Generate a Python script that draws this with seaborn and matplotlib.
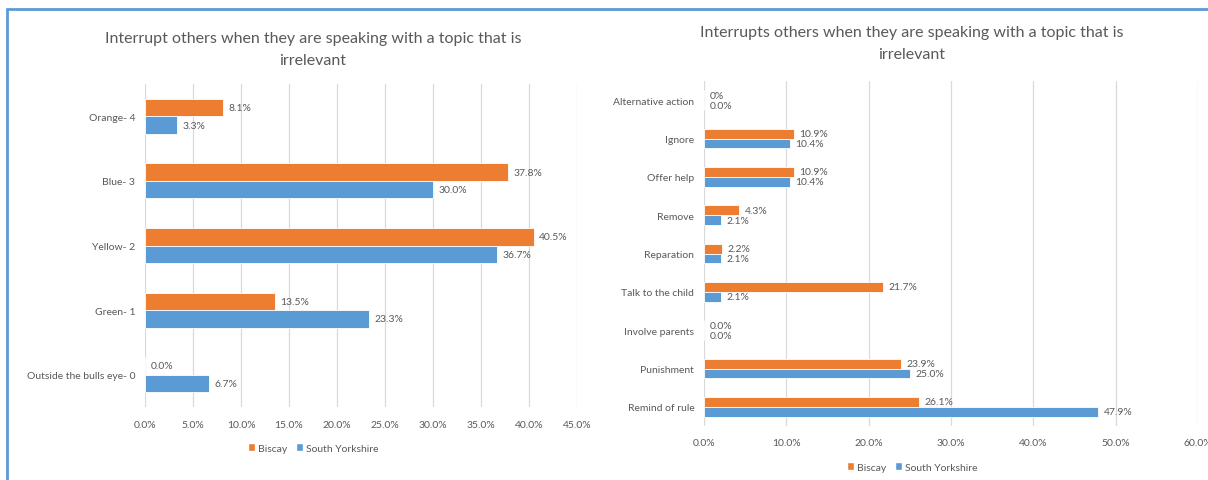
import matplotlib
matplotlib.use("Agg")
import matplotlib.pyplot as plt
from matplotlib.lines import Line2D
from matplotlib.patches import Patch
import seaborn as sns
import pandas as pd

# left chart: bulls eye score
left_cats = ["Orange- 4", "Blue- 3", "Yellow- 2", "Green- 1", "Outside the bulls eye- 0"]
left_biscay = [8.1, 37.8, 40.5, 13.5, 0.0]
left_sy = [3.3, 30.0, 36.7, 23.3, 6.7]
left_ticks = [0, 5, 10, 15, 20, 25, 30, 35, 40, 45]

# right chart: teacher response
right_cats = ["Alternative action", "Ignore", "Offer help", "Remove", "Reparation",
              "Talk to the child", "Involve parents", "Punishment", "Remind of rule"]
right_biscay = [0.0, 10.9, 10.9, 4.3, 2.2, 21.7, 0.0, 23.9, 26.1]
right_sy = [0.0, 10.4, 10.4, 2.1, 2.1, 2.1, 0.0, 25.0, 47.9]
right_biscay_labels = ["0%", "10.9%", "10.9%", "4.3%", "2.2%", "21.7%", "0.0%", "23.9%", "26.1%"]
right_ticks = [0, 10, 20, 30, 40, 50, 60]

series = ["Biscay", "South Yorkshire"]
title = "Interrupt others when they are speaking with a topic that is\nirrelevant"
title_r = "Interrupts others when they are speaking with a topic that is\nirrelevant"

ORANGE = "#ED7D31"
BLUE = "#5B9BD5"
GREY = "#595959"

sns.set_style("white")
plt.rcParams["font.family"] = ["Lato", "DejaVu Sans"]

W, H = 1208, 481
fig = plt.figure(figsize=(W / 100, H / 100), dpi=100)


def px_axes(x0, x1, y0, y1):
    return fig.add_axes([x0 / W, 1 - y1 / H, (x1 - x0) / W, (y1 - y0) / H])


def draw(ax, cats, biscay, sy, ticks, width, fs, blabels=None):
    df = pd.DataFrame({
        "cat": cats * 2,
        "val": biscay + sy,
        "region": [series[0]] * len(cats) + [series[1]] * len(cats),
    })
    sns.barplot(data=df, x="val", y="cat", hue="region", hue_order=series,
                order=cats, palette=[ORANGE, BLUE], saturation=1, width=width,
                orient="h", edgecolor="white", linewidth=0.6, legend=False, ax=ax)
    c_b, c_s = ax.containers[0], ax.containers[1]
    if blabels is None:
        blabels = [f"{v:.1f}%" for v in biscay]
    ax.bar_label(c_b, labels=blabels, padding=4, fontsize=fs, color=GREY)
    ax.bar_label(c_s, labels=[f"{v:.1f}%" for v in sy], padding=4, fontsize=fs, color=GREY)
    ax.set_xlim(ticks[0], ticks[-1])
    ax.set_xticks(ticks)
    ax.set_xticklabels([f"{t:.1f}%" for t in ticks])
    ax.set_xlabel("")
    ax.set_ylabel("")
    ax.grid(axis="x", color="#D9D9D9", linewidth=0.9)
    ax.grid(axis="y", visible=False)
    ax.set_axisbelow(True)
    sns.despine(ax=ax, left=True, bottom=True)
    ax.tick_params(length=0, labelsize=fs, colors=GREY)
    ax.tick_params(axis="x", pad=9)
    ax.tick_params(axis="y", pad=7)


axl = px_axes(145, 577, 85, 408)
draw(axl, left_cats, left_biscay, left_sy, left_ticks, 0.54, 7.5)

axr = px_axes(704, 1198, 82, 427)
draw(axr, right_cats, right_biscay, right_sy, right_ticks, 0.52, 7.5, right_biscay_labels)

fig.text(313 / W, 1 - 50 / H, title, ha="center", va="center", fontsize=11.5,
         color=GREY, linespacing=1.7)
fig.text(912 / W, 1 - 44 / H, title_r, ha="center", va="center", fontsize=11.5,
         color=GREY, linespacing=1.7)

handles = [Patch(facecolor=ORANGE, label=series[0]), Patch(facecolor=BLUE, label=series[1])]
for cx, cy in [(313, 449), (912, 468)]:
    fig.legend(handles=handles, loc="center", bbox_to_anchor=(cx / W, 1 - cy / H),
               ncol=2, frameon=False, fontsize=7.5, labelcolor=GREY,
               handlelength=0.7, handleheight=0.7, handletextpad=0.3, columnspacing=0.8)

# panel border (blue frame at top and left)
fig.add_artist(Line2D([7 / W, 1], [1 - 10 / H, 1 - 10 / H], color=BLUE, lw=2))
fig.add_artist(Line2D([7 / W, 7 / W], [0, 1 - 10 / H], color=BLUE, lw=2))

fig.savefig("out.png", dpi=100)
